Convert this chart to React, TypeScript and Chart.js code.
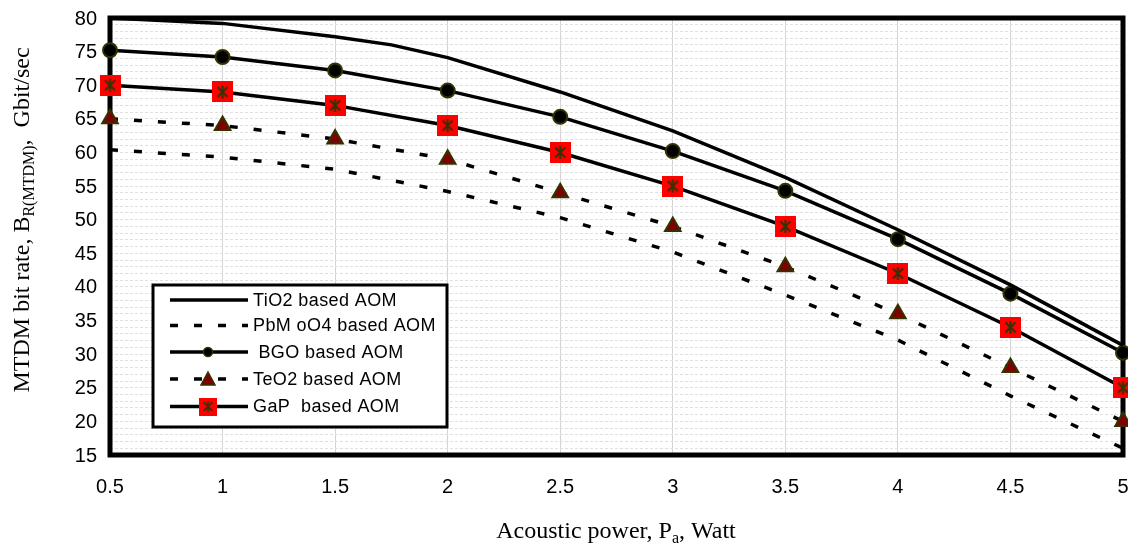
import React, { useEffect, useRef } from "react";
import { Chart, registerables } from "chart.js";

Chart.register(...registerables);

const xValues = [0.5, 1, 1.5, 2, 2.5, 3, 3.5, 4, 4.5, 5];
const xTickLabels = ["0.5", "1", "1.5", "2", "2.5", "3", "3.5", "4", "4.5", "5"];
const yTickValues = [15, 20, 25, 30, 35, 40, 45, 50, 55, 60, 65, 70, 75, 80];
const tio2X = [0.5, 1, 1.5, 1.75, 2, 2.5, 3, 3.5, 4, 4.5, 5];
const tio2Y = [80, 79.2, 77.2, 76, 74.1, 69, 63.2, 56.3, 48.5, 40.3, 31.3];
const pbmoo4Y = [60.4, 59.3, 57.5, 54.2, 50.3, 45.2, 38.8, 32.1, 23.8, 16];
const bgoY = [75.2, 74.2, 72.2, 69.2, 65.3, 60.2, 54.3, 47.1, 39, 30.2];
const teo2Y = [65, 64, 62, 59, 54, 49, 43, 36, 28, 20];
const gapY = [70, 69, 67, 64, 60, 55, 49, 42, 34, 25];

const seriesNames = [
  "TiO2 based AOM",
  "PbM oO4 based AOM",
  " BGO based AOM",
  "TeO2 based AOM",
  "GaP  based AOM",
];

const OLIVE = "#333300";

function makeGapMarker(): HTMLCanvasElement {
  const c = document.createElement("canvas");
  c.width = 21;
  c.height = 21;
  const g = c.getContext("2d")!;
  g.fillStyle = "#ff0000";
  g.fillRect(0, 0, 21, 21);
  g.strokeStyle = OLIVE;
  g.lineWidth = 2;
  g.beginPath();
  g.moveTo(10.5, 4);
  g.lineTo(10.5, 17);
  g.moveTo(5.5, 5.5);
  g.lineTo(15.5, 15.5);
  g.moveTo(15.5, 5.5);
  g.lineTo(5.5, 15.5);
  g.stroke();
  return c;
}

function drawSubText(
  ctx: CanvasRenderingContext2D,
  parts: { t: string; sub?: boolean }[],
  x: number,
  y: number,
  size: number,
  subSize: number
) {
  let total = 0;
  for (const p of parts) {
    ctx.font = `${p.sub ? subSize : size}px "Liberation Serif", serif`;
    total += ctx.measureText(p.t).width;
  }
  let cx = x - total / 2;
  for (const p of parts) {
    ctx.font = `${p.sub ? subSize : size}px "Liberation Serif", serif`;
    ctx.fillText(p.t, cx, p.sub ? y + 5 : y);
    cx += ctx.measureText(p.t).width;
  }
}

export default function App() {
  const ref = useRef<HTMLCanvasElement>(null);

  useEffect(() => {
    document.body.style.margin = "0";
    const gapMarker = makeGapMarker();

    const framePlugin = {
      id: "frame",
      beforeDatasetsDraw(chart: any) {
        const { ctx, chartArea: a } = chart;
        ctx.save();
        ctx.strokeStyle = "#000";
        ctx.lineWidth = 5;
        ctx.strokeRect(a.left, a.top, a.right - a.left, a.bottom - a.top);
        ctx.restore();
      },
      afterDraw(chart: any) {
        const { ctx, chartArea: a } = chart;
        const xs = chart.scales.x;
        const ys = chart.scales.y;
        ctx.save();
        ctx.fillStyle = "#000";
        ctx.font = '20px "Liberation Sans", Arial, sans-serif';
        // x tick labels
        ctx.textAlign = "center";
        ctx.textBaseline = "middle";
        xValues.forEach((v, i) => {
          ctx.fillText(xTickLabels[i], xs.getPixelForValue(v), a.bottom + 32);
        });
        // y tick labels
        ctx.textAlign = "right";
        yTickValues.forEach((v) => {
          ctx.fillText(String(v), a.left - 13, ys.getPixelForValue(v) + 1);
        });
        ctx.textAlign = "left";
        ctx.textBaseline = "alphabetic";
        // x title
        drawSubText(
          ctx,
          [{ t: "Acoustic power, P" }, { t: "a", sub: true }, { t: ", Watt" }],
          616,
          538,
          24,
          16
        );
        // y title
        ctx.translate(29, 220);
        ctx.rotate(-Math.PI / 2);
        drawSubText(
          ctx,
          [
            { t: "MTDM bit rate, B" },
            { t: "R(MTDM)", sub: true },
            { t: ",  Gbit/sec" },
          ],
          0,
          0,
          24,
          16
        );
        ctx.restore();

        // legend
        ctx.save();
        const lx = 153, ly = 285, lw = 294, lh = 142;
        ctx.fillStyle = "#fff";
        ctx.fillRect(lx, ly, lw, lh);
        ctx.strokeStyle = "#000";
        ctx.lineWidth = 3;
        ctx.strokeRect(lx, ly, lw, lh);
        const rows = [300, 325.5, 352, 379, 406.5];
        const dsets = chart.data.datasets;
        rows.forEach((ry, i) => {
          const ds = dsets[i];
          ctx.save();
          ctx.strokeStyle = "#000";
          ctx.lineWidth = 3.5;
          ctx.setLineDash(ds.borderDash || []);
          ctx.beginPath();
          ctx.moveTo(170, ry);
          ctx.lineTo(248, ry);
          ctx.stroke();
          ctx.restore();
          const mx = 208;
          if (i === 2) {
            ctx.beginPath();
            ctx.arc(mx, ry, 4.5, 0, Math.PI * 2);
            ctx.fillStyle = "#000";
            ctx.fill();
            ctx.lineWidth = 1.5;
            ctx.strokeStyle = OLIVE;
            ctx.stroke();
          } else if (i === 3) {
            ctx.beginPath();
            ctx.moveTo(mx, ry - 7);
            ctx.lineTo(mx + 7, ry + 6);
            ctx.lineTo(mx - 7, ry + 6);
            ctx.closePath();
            ctx.fillStyle = "#800000";
            ctx.fill();
            ctx.lineWidth = 1.5;
            ctx.strokeStyle = OLIVE;
            ctx.stroke();
          } else if (i === 4) {
            ctx.drawImage(gapMarker, mx - 9, ry - 9, 18, 18);
          }
          ctx.fillStyle = "#000";
          ctx.font = '18px "Liberation Sans", Arial, sans-serif';
          (ctx as any).letterSpacing = "0.4px";
          ctx.textBaseline = "middle";
          ctx.fillText(seriesNames[i], 253, ry + 1);
        });
        ctx.restore();
      },
    };

    const pts = (ys: number[], xs: number[] = xValues) =>
      xs.map((x, i) => ({ x, y: ys[i] }));

    const chart = new Chart(ref.current!, {
      type: "line",
      data: {
        datasets: [
          {
            label: seriesNames[0],
            data: pts(tio2Y, tio2X),
            borderColor: "#000",
            borderWidth: 3.5,
            pointRadius: 0,
            tension: 0,
            clip: false,
          },
          {
            label: seriesNames[1],
            data: pts(pbmoo4Y),
            borderColor: "#000",
            borderWidth: 3.5,
            borderDash: [8, 16],
            pointRadius: 0,
            tension: 0,
            clip: false,
          },
          {
            label: seriesNames[2],
            data: pts(bgoY),
            borderColor: "#000",
            borderWidth: 3.5,
            pointStyle: "circle",
            pointRadius: 7,
            pointBackgroundColor: "#000",
            pointBorderColor: OLIVE,
            pointBorderWidth: 2,
            tension: 0,
            clip: false,
          },
          {
            label: seriesNames[3],
            data: pts(teo2Y),
            borderColor: "#000",
            borderWidth: 3.5,
            borderDash: [8, 16],
            pointStyle: "triangle",
            pointRadius: 9,
            pointBackgroundColor: "#800000",
            pointBorderColor: OLIVE,
            pointBorderWidth: 2,
            tension: 0,
            clip: false,
          },
          {
            label: seriesNames[4],
            data: pts(gapY),
            borderColor: "#000",
            borderWidth: 3.5,
            pointStyle: gapMarker as any,
            tension: 0,
            clip: false,
          },
        ],
      },
      options: {
        animation: false,
        responsive: false,
        events: [],
        layout: {
          autoPadding: false,
          padding: { left: 0, right: 5, top: 18, bottom: 0 },
        },
        plugins: {
          legend: { display: false },
          tooltip: { enabled: false },
        },
        scales: {
          x: {
            type: "linear",
            min: 0.5,
            max: 5,
            afterFit: (s: any) => {
              s.height = 90;
            },
            ticks: { stepSize: 0.5, display: false },
            grid: { color: "#d4d4d4", lineWidth: 1, drawTicks: false },
            border: { display: false },
          },
          y: {
            min: 15,
            max: 80,
            afterFit: (s: any) => {
              s.width = 110;
            },
            ticks: { stepSize: 1, autoSkip: false, display: false },
            grid: { color: "#e0e0e0", lineWidth: 1, drawTicks: false },
            border: { display: false, dash: [3, 2] },
          },
        },
      },
      plugins: [framePlugin],
    });
    return () => chart.destroy();
  }, []);

  return (
    <div style={{ width: 1128, height: 545 }}>
      <canvas ref={ref} width={1128} height={545} style={{ display: "block" }} />
    </div>
  );
}
